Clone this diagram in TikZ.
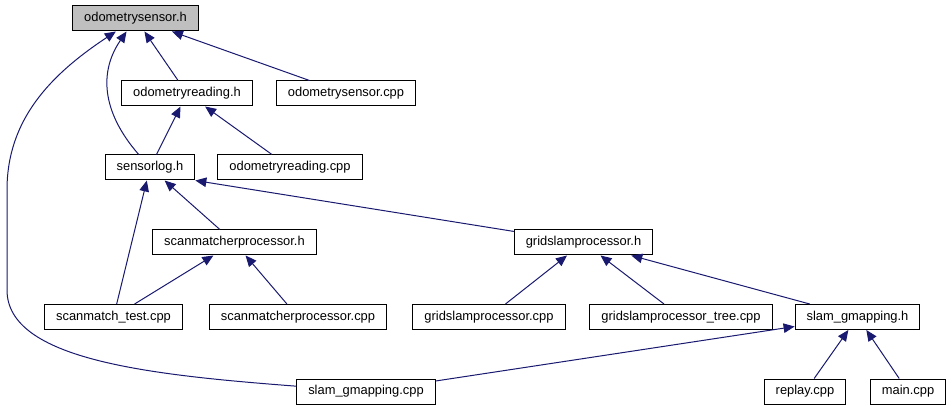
\documentclass[tikz,border=0pt]{standalone}
\usepackage{fontspec}
\setmainfont{Liberation Sans}
\usetikzlibrary{arrows.meta}
\definecolor{edgeblue}{RGB}{25,25,112}

\begin{document}
\begin{tikzpicture}[x=1pt, y=-1pt, every node/.style={font=\fontsize{12.9}{15}\selectfont},
	file/.style={draw=black, line width=1pt, fill=white, minimum height=25pt, inner xsep=11.5pt, inner ysep=0pt},
	dep/.style={->, draw=edgeblue, line width=1pt}, >={Triangle[length=11pt, width=9.5pt]}]
	\useasboundingbox (0,0) rectangle (952,411);
	\node[file, fill=black!25] (odosensorh) at (135.5,18.5) {odometrysensor.h};
	\node[file] (odoreadh) at (187,93.5) {odometryreading.h};
	\node[file] (odosensorcpp) at (346,93.5) {odometrysensor.cpp};
	\node[file] (sensorlogh) at (150,167.5) {sensorlog.h};
	\node[file] (odoreadcpp) at (290,167.5) {odometryreading.cpp};
	\node[file] (scanmatchh) at (234.5,242.5) {scanmatcherprocessor.h};
	\node[file] (gridh) at (583.5,242.5) {gridslamprocessor.h};
	\node[file] (scantestcpp) at (113.5,317) {scanmatch\_test.cpp};
	\node[file] (scanmatchcpp) at (298,317) {scanmatcherprocessor.cpp};
	\node[file] (gridcpp) at (489,317) {gridslamprocessor.cpp};
	\node[file] (treecpp) at (681,317) {gridslamprocessor\_tree.cpp};
	\node[file] (slamh) at (857.5,317) {slam\_gmapping.h};
	\node[file] (slamcpp) at (366,391.5) {slam\_gmapping.cpp};
	\node[file] (replaycpp) at (805,391.5) {replay.cpp};
	\node[file] (maincpp) at (908,391.5) {main.cpp};
	\draw[dep] (odoreadh) -- (odosensorh);
	\draw[dep] (odosensorcpp) -- (odosensorh);
	\draw[dep] (sensorlogh) .. controls (100,110) and (100,70) .. (odosensorh);
	\draw[dep] (slamcpp) .. controls (150,375) and (7,360) .. (7,290) -- (7,190) .. controls (7,120) and (50,75) .. (odosensorh);
	\draw[dep] (sensorlogh) -- (odoreadh);
	\draw[dep] (odoreadcpp) -- (odoreadh);
	\draw[dep] (scantestcpp) -- (sensorlogh);
	\draw[dep] (scanmatchh) -- (sensorlogh);
	\draw[dep] (gridh) -- (sensorlogh.south east);
	\draw[dep] (scantestcpp) -- (scanmatchh);
	\draw[dep] (scanmatchcpp) -- (scanmatchh);
	\draw[dep] (gridcpp) -- (gridh);
	\draw[dep] (treecpp) -- (gridh);
	\draw[dep] (slamh) -- (gridh);
	\draw[dep] (slamcpp) -- (slamh);
	\draw[dep] (replaycpp) -- (slamh);
	\draw[dep] (maincpp) -- (slamh);
\end{tikzpicture}
\end{document}
